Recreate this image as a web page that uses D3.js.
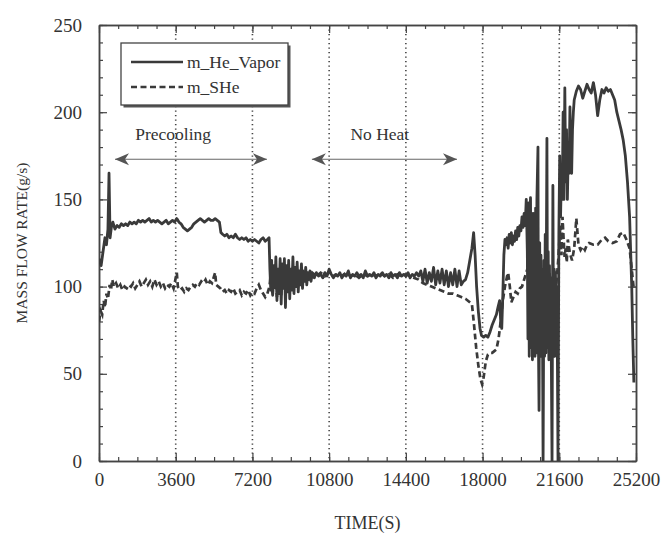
<!DOCTYPE html>
<html>
<head>
<meta charset="utf-8">
<script src="https://cdn.jsdelivr.net/npm/d3@7/dist/d3.min.js"></script>
<style>
    body { margin: 0; background: #fff; }
    text { font-family: "Liberation Serif", "Times New Roman", serif; fill: #333; }
    .frame path.domain { stroke: #444; stroke-width: 1.5; }
    .frame line { stroke: #444; stroke-width: 1.2; }
    .grid line { stroke: #444; stroke-width: 1.6; stroke-dasharray: 1.3, 3.2; }
    .line_vapor { fill: none; stroke: #3a3a3a; stroke-width: 2.8; stroke-linejoin: round; }
    .line_she { fill: none; stroke: #3a3a3a; stroke-width: 2.7; stroke-dasharray: 6, 3.5; }
</style>
</head>
<body>
<div id="chart"></div>
<script>
// time (s), mass flow (g/s)
const vapor = [
    [0, 116], [100, 112], [200, 121], [280, 128], [350, 124], [420, 133], [470, 165], [520, 128],
    [580, 134], [650, 137], [750, 133], [850, 135], [950, 134], [1050, 136], [1150, 135], [1250, 136],
    [1350, 135], [1450, 137], [1550, 136], [1650, 137], [1750, 136], [1850, 138], [1950, 137], [2050, 138],
    [2150, 137], [2250, 138], [2350, 139], [2450, 137], [2550, 138], [2650, 137], [2750, 138], [2850, 137],
    [2950, 136], [3050, 137], [3150, 138], [3250, 136], [3350, 137], [3450, 138], [3550, 137], [3650, 139],
    [3750, 137], [3850, 136], [3950, 134], [4050, 133], [4150, 132], [4250, 133], [4350, 134], [4450, 136],
    [4550, 137], [4650, 138], [4750, 139], [4850, 138], [4950, 137], [5050, 138], [5150, 139], [5250, 138],
    [5350, 138], [5450, 139], [5550, 138], [5650, 137], [5720, 131], [5800, 130], [5900, 129], [6000, 130],
    [6100, 128], [6200, 129], [6300, 128], [6400, 130], [6500, 128], [6600, 127], [6700, 128], [6800, 127],
    [6900, 128], [7000, 126], [7100, 127], [7200, 126], [7300, 127], [7400, 126], [7500, 125], [7600, 127],
    [7700, 128], [7800, 126], [7900, 127], [7980, 128],
    [8020, 110], [8060, 98], [8100, 115], [8150, 95], [8200, 112], [8250, 100], [8300, 117], [8350, 92],
    [8400, 110], [8450, 96], [8500, 116], [8550, 90], [8600, 113], [8650, 99], [8700, 116], [8750, 88],
    [8800, 112], [8850, 97], [8900, 115], [8950, 93], [9000, 110], [9050, 98], [9100, 117], [9150, 96],
    [9200, 111], [9250, 100], [9300, 114], [9350, 97], [9400, 109], [9450, 101], [9500, 113], [9550, 99],
    [9600, 108], [9650, 103], [9700, 111], [9750, 101], [9800, 108], [9850, 104], [9900, 109], [9950, 103],
    [10000, 107], [10100, 105], [10200, 108], [10300, 106], [10400, 107], [10500, 105], [10600, 108], [10700, 106],
    [10800, 110], [10900, 107], [11000, 105], [11100, 107], [11200, 106], [11300, 108], [11400, 105], [11500, 107],
    [11600, 106], [11700, 109], [11800, 105], [11900, 107], [12000, 106], [12100, 108], [12200, 106], [12300, 107],
    [12400, 105], [12500, 109], [12600, 106], [12700, 107], [12800, 106], [12900, 108], [13000, 105], [13100, 107],
    [13200, 106], [13300, 108], [13400, 106], [13500, 107], [13600, 105], [13700, 108], [13800, 106], [13900, 107],
    [14000, 105], [14100, 108], [14200, 106], [14300, 107], [14400, 106], [14500, 108], [14600, 105], [14700, 107],
    [14800, 106], [14900, 108], [15000, 106], [15100, 109], [15200, 103], [15300, 110], [15400, 102], [15500, 108],
    [15600, 103], [15700, 111], [15800, 101], [15900, 109], [16000, 102], [16100, 110], [16200, 101], [16300, 109],
    [16400, 100], [16500, 108], [16600, 101], [16700, 110], [16800, 100], [16900, 109], [17000, 101], [17100, 103],
    [17200, 104], [17300, 108], [17400, 115], [17500, 122], [17580, 131], [17650, 118], [17720, 100], [17800, 86],
    [17880, 76], [17950, 72], [18050, 71], [18150, 72], [18250, 71], [18350, 74], [18450, 78], [18550, 81],
    [18650, 84], [18720, 88], [18800, 92], [18850, 80], [18900, 76], [18950, 95], [19000, 118], [19050, 127],
    [19100, 124], [19150, 128], [19200, 122], [19250, 130], [19300, 125], [19350, 131], [19400, 124], [19450, 129],
    [19500, 126], [19550, 132], [19600, 127], [19650, 134], [19700, 129], [19750, 135], [19800, 132], [19850, 140],
    [19900, 134], [19950, 142], [20000, 135], [20050, 150], [20100, 120], [20130, 70], [20160, 148], [20190, 60],
    [20220, 140], [20250, 151], [20280, 65], [20310, 135], [20340, 58], [20370, 142], [20400, 65], [20430, 130],
    [20460, 60], [20490, 145], [20520, 62], [20550, 150], [20600, 180], [20620, 70], [20650, 29], [20680, 125],
    [20710, 62], [20740, 118], [20770, 60], [20800, 110], [20840, 0], [20880, 115], [20910, 60], [20940, 130],
    [20970, 62], [21020, 185], [21050, 65], [21080, 120], [21110, 58], [21140, 112], [21170, 60], [21200, 105],
    [21260, 0], [21300, 158], [21330, 65], [21360, 110], [21390, 60], [21420, 108], [21450, 62], [21480, 100],
    [21510, 62], [21540, 0], [21580, 130], [21620, 175], [21660, 140],
    [21700, 165], [21740, 150], [21780, 200], [21820, 150], [21860, 214], [21900, 160], [21940, 190], [21980, 150],
    [22020, 176], [22060, 165], [22100, 203], [22140, 170], [22180, 165], [22220, 190], [22260, 200], [22300, 207],
    [22400, 212], [22500, 215], [22600, 213], [22700, 208], [22800, 212], [22900, 216], [23000, 213], [23100, 211],
    [23200, 217], [23300, 210], [23400, 198], [23500, 207], [23600, 213], [23700, 211], [23800, 214], [23900, 212],
    [24000, 213], [24100, 210], [24200, 207], [24300, 200], [24400, 195], [24500, 190], [24600, 184], [24700, 175],
    [24800, 160], [24900, 140], [25000, 100], [25050, 70], [25100, 45]
];

const she = [
    [0, 80], [80, 86], [150, 84], [220, 92], [280, 88], [350, 96], [420, 93], [500, 101], [560, 98], [620, 104],
    [700, 100], [800, 102], [900, 99], [1000, 101], [1100, 98], [1200, 100], [1300, 99], [1400, 101], [1500, 100],
    [1600, 102], [1700, 99], [1800, 101], [1900, 103], [2000, 100], [2100, 102], [2200, 104], [2300, 101],
    [2400, 103], [2500, 100], [2600, 104], [2700, 101], [2800, 103], [2900, 100], [3000, 102], [3100, 99],
    [3200, 101], [3300, 100], [3400, 102], [3500, 99], [3600, 105], [3650, 108], [3700, 100], [3800, 98],
    [3900, 99], [4000, 97], [4100, 99], [4200, 98], [4300, 100], [4400, 101], [4500, 100], [4600, 102],
    [4700, 101], [4800, 103], [4900, 102], [5000, 104], [5100, 101], [5200, 103], [5300, 102], [5400, 106],
    [5450, 108], [5500, 101], [5600, 100], [5700, 99], [5800, 97], [5900, 98], [6000, 96], [6100, 98],
    [6200, 97], [6300, 99], [6400, 96], [6500, 97], [6600, 98], [6700, 95], [6800, 97], [6900, 96], [7000, 98],
    [7100, 95], [7200, 97], [7300, 96], [7400, 99], [7500, 101], [7600, 98], [7700, 96], [7800, 94], [7900, 96],
    [8000, 100], [8050, 106], [8100, 100], [8150, 95], [8200, 110], [8250, 98], [8300, 103], [8350, 94],
    [8400, 108], [8450, 97], [8500, 104], [8550, 95], [8600, 109], [8700, 100], [8800, 106], [8900, 101],
    [9000, 107], [9100, 103], [9200, 108], [9300, 104], [9400, 107], [9500, 105], [9600, 108], [9700, 105],
    [9800, 107], [9900, 106], [10000, 108], [10200, 106], [10400, 108], [10600, 106], [10800, 108], [11000, 106],
    [11200, 107], [11400, 106], [11600, 108], [11800, 106], [12000, 107], [12200, 105], [12400, 107], [12600, 106],
    [12800, 107], [13000, 106], [13200, 108], [13400, 106], [13600, 107], [13800, 105], [14000, 107], [14200, 106],
    [14400, 107], [14600, 106], [14800, 105], [15000, 104], [15200, 102], [15400, 101], [15600, 100], [15800, 99],
    [16000, 98], [16200, 97], [16400, 96], [16600, 96], [16800, 95], [17000, 94], [17200, 93], [17400, 91],
    [17500, 90], [17600, 78], [17700, 65], [17800, 55], [17900, 47], [17980, 44], [18050, 48], [18150, 57],
    [18250, 61], [18350, 62], [18450, 62], [18550, 63], [18650, 64], [18750, 70], [18850, 80], [18950, 92],
    [19050, 100], [19150, 106], [19200, 108], [19280, 100], [19350, 91], [19450, 94], [19550, 97], [19650, 96],
    [19750, 99], [19850, 100], [19950, 104], [20050, 108], [20150, 112], [20250, 98], [20350, 114], [20450, 96],
    [20550, 113], [20650, 95], [20750, 110], [20850, 96], [20950, 112], [21050, 98], [21150, 108], [21250, 95],
    [21350, 110], [21450, 100], [21550, 115], [21650, 135], [21700, 118], [21750, 140], [21800, 128], [21850, 117],
    [21900, 122], [21950, 114], [22000, 127], [22100, 119], [22200, 115], [22300, 122], [22400, 139], [22500, 124],
    [22600, 121], [22700, 123], [22800, 121], [22900, 124], [23000, 125], [23200, 124], [23400, 124], [23600, 127],
    [23750, 128], [23900, 126], [24100, 125], [24300, 126], [24450, 130], [24600, 131], [24750, 127],
    [24900, 122], [25000, 110], [25100, 98]
];

const xTicks = [0, 3600, 7200, 10800, 14400, 18000, 21600, 25200];
const yTicks = [0, 50, 100, 150, 200, 250];
const seriesNames = ["m_He_Vapor", "m_SHe"];
const phases = [
    {label: "Precooling", start: 750, end: 7880, labelAt: 1700},
    {label: "No Heat", start: 9990, end: 16800, labelAt: 11800}
];

const margin = {top: 25, right: 29, bottom: 75, left: 99};
const width = 665 - margin.left - margin.right,
    height = 536 - margin.top - margin.bottom;

let svg = d3.select("#chart")
    .append("svg")
    .attr("width", 665)
    .attr("height", 536)
    .append("g")
    .attr("transform", "translate(" + margin.left + "," + margin.top + ")");

let x = d3.scaleLinear().domain([0, 25200]).range([0, width]);
let y = d3.scaleLinear().domain([0, 250]).range([height, 0]);

svg.append("defs").append("clipPath").attr("id", "plotclip")
    .append("rect").attr("width", width).attr("height", height);

// dotted vertical grid
svg.append("g")
    .attr("class", "grid")
    .selectAll("line")
    .data(xTicks.slice(1, -1))
    .join("line")
    .attr("x1", d => x(d)).attr("x2", d => x(d))
    .attr("y1", 0).attr("y2", height);

// minor ticks (inward) on all four sides
const xMinor = d3.range(0, 25201, 900);
const yMinor = d3.range(0, 251, 10);
svg.append("g").attr("class", "frame").attr("transform", "translate(0," + height + ")")
    .call(d3.axisBottom(x).tickValues(xMinor).tickSizeInner(-4).tickSizeOuter(0).tickFormat(""));
svg.append("g").attr("class", "frame")
    .call(d3.axisTop(x).tickValues(xMinor).tickSizeInner(-4).tickSizeOuter(0).tickFormat(""));
svg.append("g").attr("class", "frame")
    .call(d3.axisLeft(y).tickValues(yMinor).tickSizeInner(-4).tickSizeOuter(0).tickFormat(""));
svg.append("g").attr("class", "frame").attr("transform", "translate(" + width + ",0)")
    .call(d3.axisRight(y).tickValues(yMinor).tickSizeInner(-4).tickSizeOuter(0).tickFormat(""));

// major ticks
svg.append("g").attr("class", "frame").attr("transform", "translate(0," + height + ")")
    .call(d3.axisBottom(x).tickValues(xTicks).tickSizeInner(-8).tickSizeOuter(0).tickPadding(12)
        .tickFormat(d3.format("d")))
    .selectAll("text").style("font-size", "19px");
svg.append("g").attr("class", "frame")
    .call(d3.axisTop(x).tickValues(xTicks).tickSizeInner(-8).tickSizeOuter(0).tickFormat(""));
svg.append("g").attr("class", "frame")
    .call(d3.axisLeft(y).tickValues(yTicks).tickSizeInner(-8).tickSizeOuter(0).tickPadding(17))
    .selectAll("text").style("font-size", "19px");
svg.append("g").attr("class", "frame").attr("transform", "translate(" + width + ",0)")
    .call(d3.axisRight(y).tickValues(yTicks).tickSizeInner(-8).tickSizeOuter(0).tickFormat(""));

let plot = svg.append("g").attr("clip-path", "url(#plotclip)");

plot.append("path")
    .datum(she)
    .attr("class", "line_she")
    .attr("d", d3.line()
        .x(function (d) { return x(d[0]); })
        .y(function (d) { return y(d[1]); }));

plot.append("path")
    .datum(vapor)
    .attr("class", "line_vapor")
    .attr("d", d3.line()
        .x(function (d) { return x(d[0]); })
        .y(function (d) { return y(d[1]); }));

// phase arrows
svg.select("defs").append("marker")
    .attr("id", "head")
    .attr("viewBox", "-1 -7 17 14")
    .attr("refX", 14).attr("refY", 0)
    .attr("markerUnits", "userSpaceOnUse")
    .attr("markerWidth", 17).attr("markerHeight", 14)
    .attr("orient", "auto-start-reverse")
    .append("path")
    .attr("d", "M0,-6L14,0L0,6L4,0Z")
    .attr("fill", "#555");

phases.forEach(function (p) {
    svg.append("line")
        .attr("x1", x(p.start)).attr("x2", x(p.end))
        .attr("y1", y(173)).attr("y2", y(173))
        .attr("stroke", "#666").attr("stroke-width", 1.1)
        .attr("marker-start", "url(#head)")
        .attr("marker-end", "url(#head)");
    svg.append("text")
        .attr("x", x(p.labelAt))
        .attr("y", y(173) - 19)
        .style("font-size", "17.5px")
        .text(p.label);
});

// legend
let legend = svg.append("g").attr("transform", "translate(22,18)");
legend.append("rect")
    .attr("x", 2.5).attr("y", 2.5).attr("width", 167).attr("height", 62)
    .attr("fill", "#555");
legend.append("rect")
    .attr("width", 167).attr("height", 62)
    .attr("fill", "#fff").attr("stroke", "#444").attr("stroke-width", 1.3);
seriesNames.forEach(function (name, i) {
    legend.append("line")
        .attr("x1", 10).attr("x2", 62)
        .attr("y1", 19 + i * 25).attr("y2", 19 + i * 25)
        .attr("stroke", "#3a3a3a").attr("stroke-width", 2.4)
        .attr("stroke-dasharray", i === 1 ? "6,3.5" : null);
    legend.append("text")
        .attr("x", 66).attr("y", 25 + i * 25)
        .style("font-size", "17.5px")
        .text(name);
});

// axis titles
svg.append("text")
    .attr("x", -height / 2)
    .attr("y", 0)
    .attr("transform", "translate(-72, 0) rotate(-90)")
    .attr("text-anchor", "middle")
    .style("font-size", "15.5px")
    .text("MASS FLOW RATE(g/s)");

svg.append("text")
    .attr("x", width / 2)
    .attr("y", height + 68)
    .attr("text-anchor", "middle")
    .style("font-size", "18px")
    .text("TIME(S)");
</script>
</body>
</html>
